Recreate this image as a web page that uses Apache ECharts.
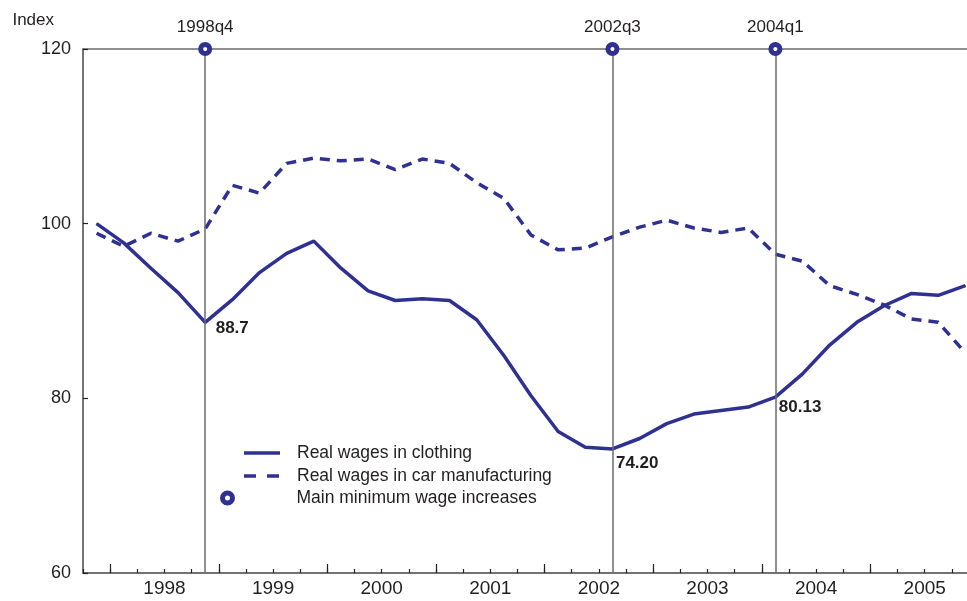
<!DOCTYPE html>
<html>
<head>
<meta charset="utf-8">
<script src="https://cdn.jsdelivr.net/npm/echarts@6/dist/echarts.min.js"></script>
<style>
html,body{margin:0;padding:0;background:#fff;}
#chart{width:967px;height:601px;}
</style>
</head>
<body>
<div id="chart"></div>
<script>
var quarters = ['1997q4',
  '1998q1','1998q2','1998q3','1998q4',
  '1999q1','1999q2','1999q3','1999q4',
  '2000q1','2000q2','2000q3','2000q4',
  '2001q1','2001q2','2001q3','2001q4',
  '2002q1','2002q2','2002q3','2002q4',
  '2003q1','2003q2','2003q3','2003q4',
  '2004q1','2004q2','2004q3','2004q4',
  '2005q1','2005q2','2005q3','2005q4'];
var yearLabels = ['1998','1999','2000','2001','2002','2003','2004','2005'];
var clothing = [100.0,
  97.8, 94.9, 92.1, 88.7,
  91.3, 94.4, 96.6, 98.0,
  94.9, 92.3, 91.2, 91.4,
  91.2, 89.0, 84.9, 80.3,
  76.2, 74.4, 74.2, 75.4,
  77.1, 78.2, 78.6, 79.0,
  80.13, 82.8, 86.1, 88.7,
  90.6, 92.0, 91.8, 92.9];
var carManufacturing = [98.9,
  97.4, 98.9, 98.0, 99.4,
  104.4, 103.5, 106.9, 107.5,
  107.2, 107.4, 106.2, 107.4,
  106.9, 104.7, 102.9, 98.7,
  97.0, 97.2, 98.5, 99.6,
  100.4, 99.5, 99.0, 99.5,
  96.5, 95.7, 92.9, 91.9,
  90.7, 89.1, 88.7, 85.2];
var events = ['1998q4','2002q3','2004q1'];
var eventLevel = 120;
var highlighted = {'1998q4':'88.7','2002q3':'74.20','2004q1':'80.13'};
var highlightOffsets = {'1998q4':[10,6],'2002q3':[3,14],'2004q1':[3,10]};

var blue = '#2e3192';
var grey = '#6b6b6b';
var txt = '#231f20';
var font = 'Liberation Sans, Arial, sans-serif';

var clothingData = clothing.map(function(v, i){
  var q = quarters[i];
  if (highlighted[q]) {
    return {value: v, label: {show: true, position: 'right', distance: highlightOffsets[q][0],
      offset: [0, highlightOffsets[q][1]], formatter: highlighted[q],
      fontWeight: 'bold', fontSize: 17, color: txt, fontFamily: font}};
  }
  return v;
});

var chart = echarts.init(document.getElementById('chart'), null, {renderer: 'canvas'});
chart.setOption({
  animation: false,
  backgroundColor: '#fff',
  textStyle: {fontFamily: font, color: txt},
  grid: {left: 83, width: 896, top: 49, bottom: 28, outerBoundsMode: 'none', containLabel: false,
    show: true, borderColor: grey, borderWidth: 1.5, backgroundColor: 'transparent'},
  legend: [{
    left: 244, top: 444, orient: 'vertical', padding: 0, itemWidth: 36, itemHeight: 14, itemGap: 5,
    textStyle: {fontSize: 17.5, color: txt, fontFamily: font, padding: [0, 0, 0, 12]},
    data: [
      {name: 'Real wages in clothing', icon: 'path://M0,0H36V3.5H0Z'},
      {name: 'Real wages in car manufacturing', icon: 'path://M0,0H12V3.5H0Z M23,0H35V3.5H23Z M35,0H36V0.01H35Z'}
    ]
  }, {
    left: 220, top: 489, orient: 'vertical', padding: 0, itemWidth: 10, itemHeight: 10,
    textStyle: {fontSize: 17.5, color: txt, fontFamily: font, padding: [0, 0, 0, 59]},
    data: [{name: 'Main minimum wage increases', icon: 'circle',
      itemStyle: {color: '#fff', borderColor: blue, borderWidth: 5, opacity: 1}}]
  }],
  xAxis: [{
    type: 'category', data: quarters, boundaryGap: true, position: 'bottom',
    axisLine: {onZero: false, lineStyle: {color: grey, width: 1.5}},
    axisTick: {show: true, inside: true, length: 9, interval: function(idx){ return idx % 4 === 1; }, lineStyle: {color: '#222', width: 1.2}},
    axisLabel: {show: false}, splitLine: {show: false}
  }, {
    type: 'category', data: quarters, boundaryGap: true, position: 'bottom',
    axisLine: {show: false, onZero: false},
    axisTick: {show: true, inside: true, length: 4, interval: 0, lineStyle: {color: '#222', width: 1.2}},
    axisLabel: {show: false}, splitLine: {show: false}
  }, {
    type: 'value', min: -0.5, max: 32.5, interval: 0.5, position: 'bottom',
    axisLine: {show: false, onZero: false}, axisTick: {show: false}, splitLine: {show: false},
    axisLabel: {show: true, margin: 6, fontSize: 19, color: txt, fontFamily: font,
      formatter: function(v){
        var k = (v - 2.5) / 4;
        if (Math.abs(k - Math.round(k)) < 1e-6 && k >= 0 && k < yearLabels.length) return yearLabels[Math.round(k)];
        return '';
      }}
  }],
  yAxis: {
    type: 'value', min: 60, max: 120, interval: 20,
    name: 'Index', nameLocation: 'end', nameGap: 20,
    nameTextStyle: {fontSize: 17, color: txt, fontFamily: font, align: 'right', padding: [0, 29, 0, 0]},
    axisLine: {show: true, onZero: false, lineStyle: {color: grey, width: 1.5}},
    axisTick: {show: true, inside: true, length: 5, lineStyle: {color: '#222', width: 1.2}},
    axisLabel: {fontSize: 18, color: txt, fontFamily: font, margin: 12},
    splitLine: {show: false}
  },
  series: [{
    name: 'Main minimum wage increases', type: 'scatter', xAxisIndex: 0,
    data: events.map(function(e){ return [e, eventLevel]; }),
    symbol: 'circle', symbolSize: 9, clip: false, z: 5,
    itemStyle: {color: '#fff', borderColor: blue, borderWidth: 5, opacity: 1},
    label: {show: true, position: 'top', distance: 6, fontSize: 17, color: txt, fontFamily: font,
      formatter: function(p){ return p.value[0]; }},
    markLine: {
      silent: true, symbol: 'none', label: {show: false},
      lineStyle: {color: grey, width: 1.5, type: 'solid'},
      data: events.map(function(e){ return {xAxis: e}; })
    }
  }, {
    name: 'Real wages in clothing', type: 'line', xAxisIndex: 0,
    data: clothingData, symbol: 'circle', symbolSize: 1, showSymbol: true,
    itemStyle: {color: blue}, lineStyle: {color: blue, width: 3.5}, z: 3
  }, {
    name: 'Real wages in car manufacturing', type: 'line', xAxisIndex: 0,
    data: carManufacturing, symbol: 'none', showSymbol: false,
    itemStyle: {color: blue}, lineStyle: {color: blue, width: 3.5, type: [10, 7]}, z: 3
  }]
});
</script>
</body>
</html>
